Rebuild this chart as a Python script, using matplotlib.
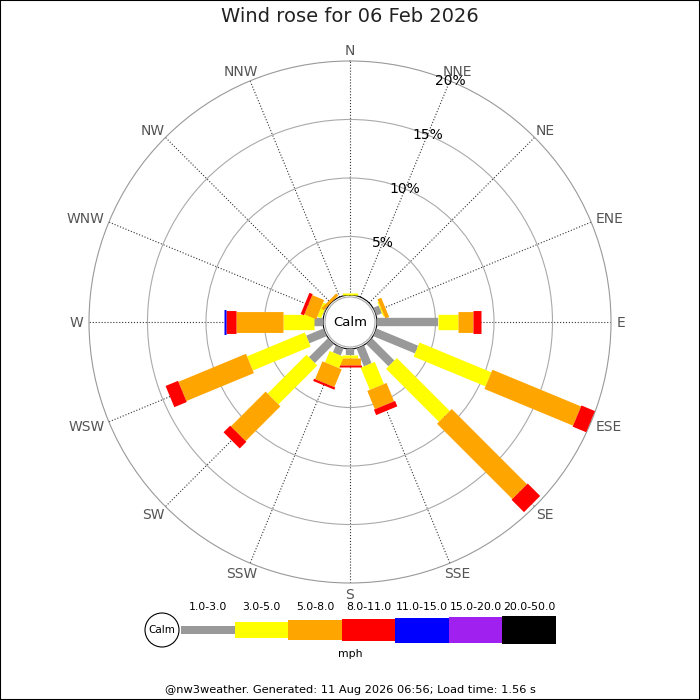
import numpy as np
import matplotlib
matplotlib.use('Agg')
import matplotlib.pyplot as plt
from matplotlib.patches import Circle, Rectangle
from matplotlib.transforms import offset_copy

# wind rose data: % of time per direction, per speed bin
directions = ['N', 'NNE', 'NE', 'ENE', 'E', 'ESE', 'SE', 'SSE',
              'S', 'SSW', 'SW', 'WSW', 'W', 'WNW', 'NW', 'NNW']
bins = ['1.0-3.0', '3.0-5.0', '5.0-8.0', '8.0-11.0', '11.0-15.0', '15.0-20.0', '20.0-50.0']
bin_colors = ['#999999', '#ffff00', '#ffa500', '#ff0000', '#0000ff', '#a020f0', '#000000']
bin_widths = [6.0, 11.0, 15.0, 16.5, 18.0, 19.2, 20.4]  # points

#           N    NNE  NE   ENE   E     ESE   SE    SSE   S    SSW   SW   WSW   W    WNW   NW    NNW
f_1_3   = [0.0, 0.0, 0.0, 0.5,  5.2,  3.85, 2.7,  1.65, 0.5, 0.65, 2.3, 1.6,  0.8, 0.1,  0.0,  0.0]
f_3_5   = [0.2, 0.0, 0.0, 0.1,  1.7,  6.65, 6.4,  2.05, 0.3, 1.05, 4.7, 5.35, 2.6, 0.35, 0.0,  0.0]
f_5_8   = [0.0, 0.0, 0.0, 0.35, 1.3,  8.2,  9.1,  1.7,  0.6, 1.65, 4.2, 6.25, 4.0, 1.1,  0.25, 0.0]
f_8_11  = [0.0, 0.0, 0.0, 0.0,  0.65, 1.25, 1.5,  0.5,  0.1, 0.2,  0.8, 1.15, 0.9, 0.3,  0.0,  0.0]
f_11_15 = [0.0, 0.0, 0.0, 0.0,  0.0,  0.0,  0.0,  0.0,  0.0, 0.0,  0.0, 0.0,  0.2, 0.0,  0.0,  0.0]
f_15_20 = [0.0] * 16
f_20_50 = [0.0] * 16
freqs = [f_1_3, f_3_5, f_5_8, f_8_11, f_11_15, f_15_20, f_20_50]

rings = [5, 10, 15, 20]

fig = plt.figure(figsize=(7, 7), dpi=100)
W = 700.0

# rose centre (350, 322) px, outer radius 261 px
rad = 261 / W
ax = fig.add_axes([0.5 - rad, 1 - 322 / W - rad, 2 * rad, 2 * rad], projection='polar')
ax.set_theta_zero_location('N')
ax.set_theta_direction(-1)
ax.set_ylim(0, 20)
ax.set_rorigin(-27 / 11.7)

theta = np.radians(np.arange(16) * 22.5)
ax.set_thetagrids(np.arange(16) * 22.5, labels=[''] * 16)
ax.set_rgrids([5, 10, 15], labels=[''] * 3)
ax.xaxis.grid(True, color='#333333', ls=':', lw=0.8)
ax.yaxis.grid(True, color='#aaaaaa', ls='-', lw=0.8)
ax.spines['polar'].set_color('#999999')
ax.spines['polar'].set_linewidth(0.8)
ax.spines['inner'].set_visible(False)
ax.tick_params(length=0)

# stacked bars as thick radial lines
for i, th in enumerate(theta):
    bottom = 0.0
    for j in range(len(bins)):
        v = freqs[j][i]
        if v > 0:
            ax.plot([th, th], [bottom, bottom + v], color=bin_colors[j],
                    lw=bin_widths[j], solid_capstyle='butt', zorder=3, clip_on=False)
            bottom += v

# compass labels pushed outward by their half size
renderer = fig.canvas.get_renderer()
hh = 0.73 * 10 * 100 / 72 / 2  # half cap height, px
for i, th in enumerate(theta):
    s, c = np.sin(th), np.cos(th)
    t = ax.text(th, 20.5, directions[i], ha='center', va='baseline',
                color='#555555', fontsize=10)
    hw = t.get_window_extent(renderer).width / 2
    t.set_transform(offset_copy(ax.transData, fig=fig, x=s * hw, y=c * hh - hh, units='dots'))
for r in rings:
    ax.text(np.radians(22.5), r, '%d%%' % r, ha='center', va='center', fontsize=10, zorder=5)

# calm circle
fig.add_artist(Circle((0.5, 1 - 322 / W), 25 / W, transform=fig.transFigure,
                      facecolor='white', edgecolor='#aaaaaa', lw=0.8, zorder=10))
fig.text(0.5, 1 - 322 / W, 'Calm', ha='center', va='center', fontsize=9.5, zorder=11)

# legend
lax = fig.add_axes([181 / W, 40 / W, 375 / W, 60 / W])
lax.set_xlim(0, 7)
lax.set_ylim(-30, 30)
lax.axis('off')
hts = [w * 100 / 72 for w in bin_widths]
lax.bar(np.arange(7), hts, width=1, bottom=[-h / 2 for h in hts], align='edge',
        color=bin_colors, edgecolor='none')
for j, lab in enumerate(bins):
    lax.text(j + 0.5, 23, lab, ha='center', va='center', fontsize=7.8)
lax.text((350 - 181) / 53.57, -24, 'mph', ha='center', va='center', fontsize=7.8)

fig.add_artist(Circle((162 / W, 1 - 630 / W), 17 / W, transform=fig.transFigure,
                      facecolor='white', edgecolor='black', lw=0.8, zorder=10))
fig.text(162 / W, 1 - 630 / W, 'Calm', ha='center', va='center', fontsize=7.5, zorder=11)

fig.text(0.5, 1 - 17 / W, 'Wind rose for 06 Feb 2026', ha='center', va='center',
         fontsize=14, color='#222222')
fig.text(0.5, 1 - 690 / W, '@nw3weather. Generated: 11 Aug 2026 06:56; Load time: 1.56 s',
         ha='center', va='center', fontsize=8.2)

fig.add_artist(Rectangle((0, 0), 1, 1, transform=fig.transFigure, fill=False,
                         edgecolor='black', lw=1.5))

fig.savefig('out.png', dpi=100)
